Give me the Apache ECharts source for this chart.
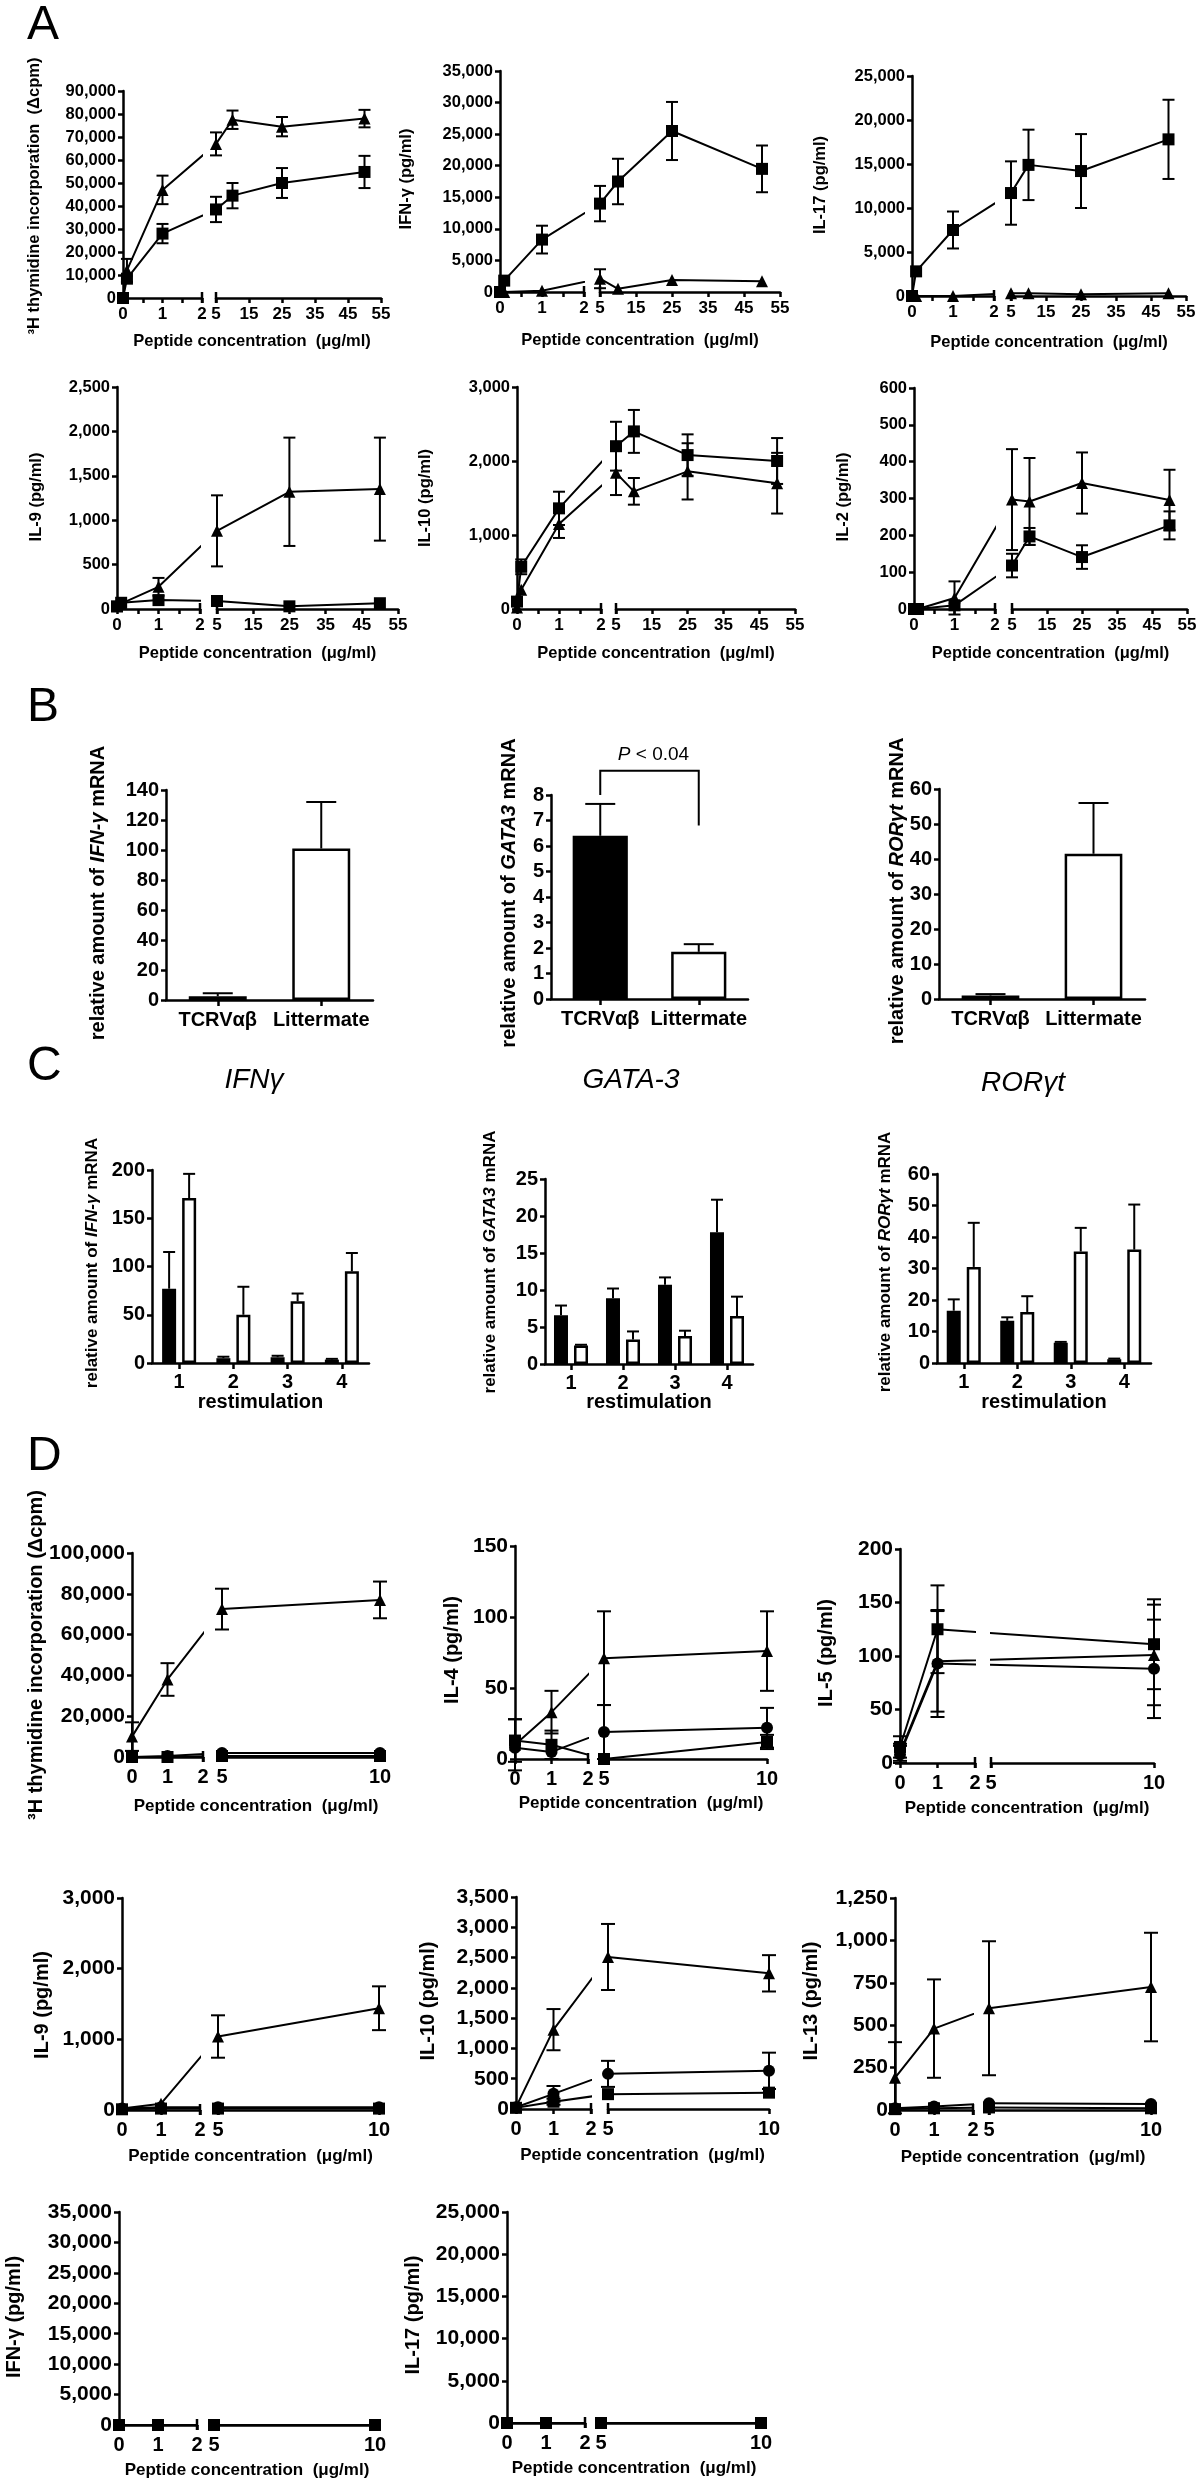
<!DOCTYPE html>
<html><head><meta charset="utf-8">
<script src="https://cdn.jsdelivr.net/npm/echarts@6/dist/echarts.min.js"></script>
<style>html,body{margin:0;padding:0;background:#fff}#c{width:1200px;height:2481px}</style>
</head><body><div id="c"></div>
<script>
// ================= DATA =================
// Panel A – peptide concentration (µg/ml)
const concA = [0, 0.1, 1, 5, 10, 25, 50];
const concA9 = [0, 0.1, 1, 5, 25, 50];
const xLeftA = [0, 2, 0.5];
const xRightA = [5, 55, 10];
// A1 3H thymidine
const yThyA = [0, 90000, 10000];
const aThySq = [0, 8400, 28000, 38500, 44500, 50000, 54800];
const aThySqErr = [0, 0, 4200, 5500, 5500, 6500, 7000];
const aThyTri = [0, 12000, 47000, 67000, 77500, 74500, 78000];
const aThyTriErr = [0, 5000, 6200, 5000, 4000, 4200, 3800];
// A2 IFN-γ
const yIfnA = [0, 35000, 5000];
const aIfnSq = [0, 1800, 8300, 14000, 17500, 25500, 19500];
const aIfnSqErr = [0, 0, 2200, 2800, 3600, 4600, 3700];
const aIfnTri = [0, 0, 200, 2100, 500, 1900, 1700];
const aIfnTriErr = [0, 0, 0, 1500, 0, 0, 0];
// A3 IL-17
const yIl17A = [0, 25000, 5000];
const aIl17Sq = [0, 2800, 7500, 11700, 14900, 14200, 17800];
const aIl17SqErr = [0, 0, 2100, 3600, 4000, 4200, 4500];
const aIl17Tri = [0, 0, 0, 300, 300, 200, 300];
const aIl17TriErr = [0, 0, 0, 0, 0, 0, 0];
// A4 IL-9
const yIl9A = [0, 2500, 500];
const aIl9Tri = [30, 60, 250, 880, 1320, 1350];
const aIl9TriErr = [0, 0, 100, 400, 610, 580];
const aIl9Sq = [30, 70, 100, 90, 30, 65];
const aIl9SqErr = [0, 0, 0, 0, 0, 0];
// A5 IL-10
const yIl10A = [0, 3000, 1000];
const aIl10Sq = [100, 570, 1360, 2200, 2400, 2080, 2000];
const aIl10SqErr = [0, 100, 225, 330, 290, 280, 310];
const aIl10Tri = [20, 260, 1150, 1840, 1590, 1860, 1700];
const aIl10TriErr = [0, 0, 190, 300, 180, 380, 410];
// A6 IL-2
const yIl2A = [0, 600, 100];
const aIl2Tri = [0, 0, 30, 297, 292, 342, 296];
const aIl2TriErr = [0, 0, 45, 137, 118, 83, 82];
const aIl2Sq = [0, 0, 10, 118, 197, 141, 227];
const aIl2SqErr = [0, 0, 0, 32, 23, 32, 38];

// Panel B
const bCats = ['TCRVαβ', 'Littermate'];
const yIfnB = [0, 140, 20];
const bIfn = [2.5, 101];
const bIfnErr = [2, 31];
const yGataB = [0, 8, 1];
const bGata = [6.4, 1.85];
const bGataErr = [1.25, 0.3];
const yRorB = [0, 60, 10];
const bRor = [1.0, 41.5];
const bRorErr = [0.4, 14.5];
const bBracket = {top: 8.95, leftEnd: 8.0, rightEnd: 6.8, label: 'P < 0.04'};

// Panel C
const cCats = ['1', '2', '3', '4'];
const yIfnC = [0, 200, 50];
const cIfnTcr = [77, 5, 6, 3.5];
const cIfnTcrErr = [38, 1.5, 1.5, 0.8];
const cIfnLit = [171, 50, 64, 95];
const cIfnLitErr = [25, 29, 8, 19];
const yGataC = [0, 25, 5];
const cGataTcr = [6.6, 8.9, 10.7, 17.8];
const cGataTcrErr = [1.3, 1.3, 1.0, 4.4];
const cGataLit = [2.5, 3.3, 3.8, 6.5];
const cGataLitErr = [0.1, 1.1, 0.7, 2.6];
const yRorC = [0, 60, 10];
const cRorTcr = [16.6, 13.4, 6.4, 1.2];
const cRorTcrErr = [3.6, 1.1, 0.3, 0.2];
const cRorLit = [30.5, 16.2, 35.4, 36];
const cRorLitErr = [14, 5, 7.5, 14.3];

// Panel D
const concD = [0, 1, 5, 10];
const concD5 = [0, 1, 10];
const xLeftD = [0, 2, 1];
const xRightD = [5, 10, 5];
const yThyD = [0, 100000, 20000];
const dThyTri = [10000, 38000, 72500, 77000];
const dThyTriErr = [7000, 8000, 10000, 9000];
const dThyCirc = [0, 500, 2000, 2000];
const dThySq = [0, 0, 500, 500];
const yIl4D = [0, 150, 50];
const dIl4Tri = [10, 33, 71, 76];
const dIl4TriErr = [18, 15, 33, 28];
const dIl4Circ = [8, 5, 19, 22];
const dIl4CircErr = [0, 0, 19, 14];
const dIl4Sq = [13, 10, 0, 12];
const dIl4SqErr = [15, 10, 0, 5];
const yIl5D = [0, 200, 50];
const dIl5Sq = [15, 125, 111];
const dIl5SqErr = [10, 41, 42];
const dIl5Tri = [10, 95, 101];
const dIl5TriErr = [8, 47, 47];
const dIl5Circ = [8, 93, 88];
const dIl5CircErr = [8, 50, 46];
const yIl9D = [0, 3000, 1000];
const dIl9Tri = [20, 90, 1040, 1440];
const dIl9TriErr = [0, 0, 300, 310];
const dIl9Circ = [20, 40, 40, 40];
const dIl9Sq = [10, 20, 20, 20];
const yIl10D = [0, 3500, 500];
const dIl10Tri = [30, 1310, 2510, 2240];
const dIl10TriErr = [0, 340, 545, 300];
const dIl10Circ = [30, 250, 580, 630];
const dIl10CircErr = [0, 130, 215, 300];
const dIl10Sq = [20, 120, 245, 270];
const dIl10SqErr = [0, 50, 0, 0];
const yIl13D = [0, 1250, 250];
const dIl13Tri = [190, 480, 600, 725];
const dIl13TriErr = [210, 290, 395, 320];
const dIl13Circ = [10, 20, 40, 35];
const dIl13Sq = [5, 10, 15, 10];
const yIfnD = [0, 35000, 5000];
const dIfnSq = [0, 0, 0, 0];
const dIfnTri = [0, 0, 0, 0];
const dIfnCirc = [0, 0, 0, 0];
const yIl17D = [0, 25000, 5000];
const dIl17Sq = [0, 0, 0, 0];
const dIl17Tri = [0, 0, 0, 0];
const dIl17Circ = [0, 0, 0, 0];
const zeros4 = [0, 0, 0, 0];

// ================= BUILD =================
const FF = "'Liberation Sans', Arial, Helvetica, sans-serif";
const option = {animation: false, backgroundColor: '#ffffff', grid: [], xAxis: [], yAxis: [], series: [], graphic: {elements: []}};
const GE = option.graphic.elements;
const fmt = v => Number(v).toLocaleString('en-US');
const AXL = {show: true, onZero: false, lineStyle: {color: '#000', width: 2.5}};
const tick = (len, extra) => Object.assign({show: true, inside: false, length: len, lineStyle: {color: '#000', width: 2.5}}, extra || {});

function addGrid(l, t, w, h) {
  option.grid.push({left: l, top: t, width: w, height: h, containLabel: false, outerBoundsMode: 'none'});
  return option.grid.length - 1;
}
function text(str, x, y, o) {
  o = o || {};
  const el = {type: 'text', x: x, y: y, silent: true, z: 10,
    style: {text: str, fill: '#000', fontFamily: FF, fontSize: o.size || 16, fontWeight: o.weight || 'bold',
      fontStyle: o.style || 'normal', align: o.align || 'center', verticalAlign: 'middle'}};
  if (o.rot) el.rotation = Math.PI / 2;
  if (o.rich) el.style.rich = o.rich;
  GE.push(el);
}
function errSeries(xi, yi, rows, cw, dx, upOnly) {
  return {type: 'custom', xAxisIndex: xi, yAxisIndex: yi, data: rows, silent: true, z: 4,
    renderItem: function (params, api) {
      const x = api.value(0), lo = api.value(1), hi = api.value(2);
      const a = api.coord([x, hi]), b = api.coord([x, lo]);
      const X = a[0] + (dx || 0);
      const st = {stroke: '#000', lineWidth: 2};
      const ch = [
        {type: 'line', shape: {x1: X, y1: a[1], x2: X, y2: b[1]}, style: st},
        {type: 'line', shape: {x1: X - cw, y1: a[1], x2: X + cw, y2: a[1]}, style: st}];
      if (!upOnly) ch.push({type: 'line', shape: {x1: X - cw, y1: b[1], x2: X + cw, y2: b[1]}, style: st});
      return {type: 'group', children: ch};
    }};
}
function breakMark(xi, yi, xv, yv) {
  return {type: 'custom', xAxisIndex: xi, yAxisIndex: yi, data: [[xv, yv]], silent: true, z: 5,
    renderItem: function (params, api) {
      const p = api.coord([api.value(0), api.value(1)]);
      return {type: 'line', shape: {x1: p[0], y1: p[1] - 6, x2: p[0], y2: p[1] + 5}, style: {stroke: '#000', lineWidth: 2.5}};
    }};
}

function brokenPlot(p) {
  const L = p.lay, f = p.f;
  const top = L.y[0], h = L.y[1] - L.y[0];
  const gL = addGrid(L.xL[0], top, L.xL[1] - L.xL[0], h);
  const gR = addGrid(L.xR[0], top, L.xR[1] - L.xR[0], h);
  const [lMin, lMax, lInt] = p.xl, [rMin, rMax, rInt] = p.xr;
  const xlab = {color: '#000', fontSize: f.xTick, fontWeight: 'bold', fontFamily: FF, margin: f.xMargin,
    formatter: v => (Math.abs(v - Math.round(v)) < 1e-9 ? String(Math.round(v)) : '')};
  const ixL = option.xAxis.length;
  option.xAxis.push({gridIndex: gL, type: 'value', min: lMin, max: lMax, interval: lInt, position: 'bottom',
    axisLine: AXL, axisTick: tick(5), splitLine: {show: false}, axisLabel: xlab});
  const ixR = option.xAxis.length;
  option.xAxis.push({gridIndex: gR, type: 'value', min: rMin, max: rMax, interval: rInt, position: 'bottom',
    axisLine: AXL, axisTick: tick(5), splitLine: {show: false}, axisLabel: xlab});
  const iyL = option.yAxis.length;
  option.yAxis.push({gridIndex: gL, type: 'value', min: p.yr[0], max: p.yr[1], interval: p.yr[2], position: 'left',
    axisLine: AXL, axisTick: tick(5), splitLine: {show: false},
    axisLabel: {color: '#000', fontSize: f.tick, fontWeight: 'bold', fontFamily: FF, margin: 7, formatter: fmt}});
  const iyR = option.yAxis.length;
  option.yAxis.push({gridIndex: gR, type: 'value', min: p.yr[0], max: p.yr[1], show: false});

  const pxL = (L.xL[1] - L.xL[0]) / (lMax - lMin);
  const pxR = (L.xR[1] - L.xR[0]) / (rMax - rMin);
  const gap = L.xR[0] - L.xL[1];
  const xs = p.conc;
  p.groups.forEach(g => {
    const [sym, ys, es] = g;
    const left = [], right = [], eL = [], eR = [];
    let iLast = -1;
    xs.forEach((x, i) => { if (x <= lMax) { left.push([x, ys[i]]); iLast = i; if (es[i] > 0) eL.push([x, ys[i] - es[i], ys[i] + es[i]]); } });
    const iFirst = xs.findIndex(x => x >= rMin);
    if (iFirst >= 0 && iLast >= 0) {
      left.push({value: [lMax + (gap + (xs[iFirst] - rMin) * pxR) / pxL, ys[iFirst]], symbol: 'none'});
      right.push({value: [rMin - (gap + (lMax - xs[iLast]) * pxL) / pxR, ys[iLast]], symbol: 'none'});
    }
    xs.forEach((x, i) => { if (x >= rMin) { right.push([x, ys[i]]); if (es[i] > 0) eR.push([x, ys[i] - es[i], ys[i] + es[i]]); } });
    const base = {type: 'line', symbol: sym, symbolSize: f.sym, itemStyle: {color: '#000'},
      lineStyle: {color: '#000', width: 2}, clip: true, silent: true, z: 3, emphasis: {disabled: true}};
    option.series.push(Object.assign({}, base, {xAxisIndex: ixL, yAxisIndex: iyL, data: left}));
    option.series.push(Object.assign({}, base, {xAxisIndex: ixR, yAxisIndex: iyR, data: right}));
    if (eL.length) option.series.push(errSeries(ixL, iyL, eL, f.cap));
    if (eR.length) option.series.push(errSeries(ixR, iyR, eR, f.cap));
  });
  option.series.push(breakMark(ixL, iyL, lMax, p.yr[0]));
  option.series.push(breakMark(ixR, iyR, rMin, p.yr[0]));
  text(p.yTitle, L.yT[0], L.yT[1], {size: f.yTitle, rot: true});
  text('Peptide concentration  (μg/ml)', (L.xL[0] + L.xR[1]) / 2, L.xT, {size: f.xTitle});
}

function barPlot(p) {
  const L = p.lay, f = p.f;
  const g = addGrid(L.x[0], L.y[0], L.x[1] - L.x[0], L.y[1] - L.y[0]);
  const ix = option.xAxis.length;
  option.xAxis.push({gridIndex: g, type: 'category', data: p.cats, position: 'bottom',
    axisLine: AXL, axisTick: tick(6, {alignWithLabel: true, interval: 0}),
    axisLabel: {color: '#000', fontSize: f.xTick, fontWeight: 'bold', fontFamily: FF, margin: f.xMargin, interval: 0, hideOverlap: false}});
  const iy = option.yAxis.length;
  option.yAxis.push({gridIndex: g, type: 'value', min: p.yr[0], max: p.yr[1], interval: p.yr[2], position: 'left',
    axisLine: AXL, axisTick: tick(5), splitLine: {show: false},
    axisLabel: {color: '#000', fontSize: f.tick, fontWeight: 'bold', fontFamily: FF, margin: 7, formatter: fmt}});
  p.series.forEach(s => {
    option.series.push({type: 'bar', xAxisIndex: ix, yAxisIndex: iy, barWidth: p.barWidth, barGap: p.barGap,
      data: s.values.map((v, i) => ({value: v, itemStyle: {color: s.colors[i % s.colors.length]}})),
      itemStyle: {borderColor: '#000', borderWidth: 2.5}, silent: true, z: 2});
    const rows = s.values.map((v, i) => [i, v, v + s.errs[i]]);
    option.series.push(errSeries(ix, iy, rows, p.cap, s.dx, true));
  });
  if (p.bracket) {
    const br = p.bracket;
    option.series.push({type: 'custom', xAxisIndex: ix, yAxisIndex: iy, data: [[0, 1]], silent: true, z: 6,
      renderItem: function (params, api) {
        const a = api.coord([0, br.top]), b = api.coord([1, br.top]);
        const a2 = api.coord([0, br.leftEnd]), b2 = api.coord([1, br.rightEnd]);
        return {type: 'group', children: [
          {type: 'polyline', shape: {points: [[a2[0], a2[1]], [a[0], a[1]], [b[0], b[1]], [b2[0], b2[1]]]},
            style: {stroke: '#000', lineWidth: 2, fill: null}},
          {type: 'text', x: (a[0] + b[0]) / 2 + 4, y: a[1] - 16,
            style: {text: '{i|P} < 0.04', fill: '#000', fontFamily: FF, fontSize: 19, align: 'center', verticalAlign: 'middle',
              rich: {i: {fontStyle: 'italic', fontFamily: FF, fontSize: 19}}}}]};
      }});
  }
  if (p.yTitle) text(p.yTitle, p.yT[0], p.yT[1], {size: f.yTitle, rot: true, rich: {i: {fontStyle: 'italic', fontWeight: 'bold', fontSize: f.yTitle, fontFamily: FF}}});
  if (p.xTitle) text(p.xTitle, (L.x[0] + L.x[1]) / 2, p.xT, {size: f.xName});
}

const fA = {tick: 16.5, xTick: 17, yTitle: 16.5, xTitle: 16.5, xMargin: 8, cap: 6, sym: 12};
const fD = {tick: 21, xTick: 20, yTitle: 20, xTitle: 17, xMargin: 10, cap: 7, sym: 12};
const fB = {tick: 20, xTick: 20, yTitle: 20, xMargin: 10};
const fC = {tick: 20, xTick: 20, yTitle: 17, xMargin: 9, xName: 20};

// ----- Panel A -----
brokenPlot({lay: {xL: [123, 202], xR: [216, 381], y: [91, 298], yT: [34, 196], xT: 341}, xl: xLeftA, xr: xRightA, yr: yThyA, conc: concA, f: fA,
  yTitle: '³H thymidine incorporation  (Δcpm)', groups: [['rect', aThySq, aThySqErr], ['triangle', aThyTri, aThyTriErr]]});
brokenPlot({lay: {xL: [500, 584], xR: [600, 780], y: [71, 292], yT: [406, 179], xT: 340}, xl: xLeftA, xr: xRightA, yr: yIfnA, conc: concA, f: fA,
  yTitle: 'IFN-γ (pg/ml)', groups: [['triangle', aIfnTri, aIfnTriErr], ['rect', aIfnSq, aIfnSqErr]]});
brokenPlot({lay: {xL: [912, 994], xR: [1011, 1186], y: [76, 296], yT: [820, 185], xT: 342}, xl: xLeftA, xr: xRightA, yr: yIl17A, conc: concA, f: fA,
  yTitle: 'IL-17 (pg/ml)', groups: [['triangle', aIl17Tri, aIl17TriErr], ['rect', aIl17Sq, aIl17SqErr]]});
brokenPlot({lay: {xL: [117, 200], xR: [217, 398], y: [387, 609], yT: [36, 497], xT: 653}, xl: xLeftA, xr: xRightA, yr: yIl9A, conc: concA9, f: fA,
  yTitle: 'IL-9 (pg/ml)', groups: [['rect', aIl9Sq, aIl9SqErr], ['triangle', aIl9Tri, aIl9TriErr]]});
brokenPlot({lay: {xL: [517, 601], xR: [616, 795], y: [387, 609], yT: [425, 498], xT: 653}, xl: xLeftA, xr: xRightA, yr: yIl10A, conc: concA, f: fA,
  yTitle: 'IL-10 (pg/ml)', groups: [['triangle', aIl10Tri, aIl10TriErr], ['rect', aIl10Sq, aIl10SqErr]]});
brokenPlot({lay: {xL: [914, 995], xR: [1012, 1187], y: [388, 609], yT: [843, 497], xT: 653}, xl: xLeftA, xr: xRightA, yr: yIl2A, conc: concA, f: fA,
  yTitle: 'IL-2 (pg/ml)', groups: [['triangle', aIl2Tri, aIl2TriErr], ['rect', aIl2Sq, aIl2SqErr]]});

// ----- Panel B -----
const bw = ['#000', '#fff'];
barPlot({lay: {x: [166, 373], y: [790, 1000]}, yr: yIfnB, cats: bCats, f: fB, barWidth: '56%', cap: 15,
  series: [{values: bIfn, errs: bIfnErr, colors: bw}], yTitle: 'relative amount of {i|IFN-γ} mRNA', yT: [98, 893]});
barPlot({lay: {x: [551, 748], y: [795, 999]}, yr: yGataB, cats: bCats, f: fB, barWidth: '56%', cap: 15,
  series: [{values: bGata, errs: bGataErr, colors: bw}], yTitle: 'relative amount of {i|GATA3} mRNA', yT: [509, 893], bracket: bBracket});
barPlot({lay: {x: [939, 1145], y: [789, 999]}, yr: yRorB, cats: bCats, f: fB, barWidth: '56%', cap: 15,
  series: [{values: bRor, errs: bRorErr, colors: bw}], yTitle: 'relative amount of {i|RORγt} mRNA', yT: [897, 891]});

// ----- Panel C -----
const cBW = 14, cGap = '43%', cOff = 10;
barPlot({lay: {x: [152, 369], y: [1170, 1363]}, yr: yIfnC, cats: cCats, f: fC, barWidth: cBW, barGap: cGap, cap: 6,
  series: [{values: cIfnTcr, errs: cIfnTcrErr, colors: ['#000'], dx: -cOff}, {values: cIfnLit, errs: cIfnLitErr, colors: ['#fff'], dx: cOff}],
  yTitle: 'relative amount of {i|IFN-γ} mRNA', yT: [92, 1263], xTitle: 'restimulation', xT: 1402});
barPlot({lay: {x: [545, 753], y: [1179, 1364]}, yr: yGataC, cats: cCats, f: fC, barWidth: cBW, barGap: cGap, cap: 6,
  series: [{values: cGataTcr, errs: cGataTcrErr, colors: ['#000'], dx: -cOff}, {values: cGataLit, errs: cGataLitErr, colors: ['#fff'], dx: cOff}],
  yTitle: 'relative amount of {i|GATA3} mRNA', yT: [490, 1262], xTitle: 'restimulation', xT: 1402});
barPlot({lay: {x: [937, 1151], y: [1174, 1363]}, yr: yRorC, cats: cCats, f: fC, barWidth: cBW, barGap: cGap, cap: 6,
  series: [{values: cRorTcr, errs: cRorTcrErr, colors: ['#000'], dx: -cOff}, {values: cRorLit, errs: cRorLitErr, colors: ['#fff'], dx: cOff}],
  yTitle: 'relative amount of {i|RORγt} mRNA', yT: [885, 1262], xTitle: 'restimulation', xT: 1402});
text('IFNγ', 254, 1080, {size: 28, weight: 'normal', style: 'italic'});
text('GATA-3', 631, 1080, {size: 28, weight: 'normal', style: 'italic'});
text('RORγt', 1023, 1083, {size: 28, weight: 'normal', style: 'italic'});

// ----- Panel D -----
brokenPlot({lay: {xL: [132, 203], xR: [222, 380], y: [1553, 1757], yT: [36, 1655], xT: 1806}, xl: xLeftD, xr: xRightD, yr: yThyD, conc: concD, f: fD,
  yTitle: '³H thymidine incorporation (Δcpm)', groups: [['rect', dThySq, zeros4], ['circle', dThyCirc, zeros4], ['triangle', dThyTri, dThyTriErr]]});
brokenPlot({lay: {xL: [515, 588], xR: [604, 767], y: [1546, 1759], yT: [452, 1650], xT: 1803}, xl: xLeftD, xr: xRightD, yr: yIl4D, conc: concD, f: fD,
  yTitle: 'IL-4 (pg/ml)', groups: [['rect', dIl4Sq, dIl4SqErr], ['circle', dIl4Circ, dIl4CircErr], ['triangle', dIl4Tri, dIl4TriErr]]});
brokenPlot({lay: {xL: [900, 975], xR: [991, 1154], y: [1549, 1763], yT: [826, 1653], xT: 1808}, xl: xLeftD, xr: xRightD, yr: yIl5D, conc: concD5, f: fD,
  yTitle: 'IL-5 (pg/ml)', groups: [['circle', dIl5Circ, dIl5CircErr], ['triangle', dIl5Tri, dIl5TriErr], ['rect', dIl5Sq, dIl5SqErr]]});
brokenPlot({lay: {xL: [122, 200], xR: [218, 379], y: [1898, 2110], yT: [42, 2005], xT: 2156}, xl: xLeftD, xr: xRightD, yr: yIl9D, conc: concD, f: fD,
  yTitle: 'IL-9 (pg/ml)', groups: [['rect', dIl9Sq, zeros4], ['circle', dIl9Circ, zeros4], ['triangle', dIl9Tri, dIl9TriErr]]});
brokenPlot({lay: {xL: [516, 591], xR: [608, 769], y: [1897, 2109], yT: [428, 2001], xT: 2155}, xl: xLeftD, xr: xRightD, yr: yIl10D, conc: concD, f: fD,
  yTitle: 'IL-10 (pg/ml)', groups: [['rect', dIl10Sq, dIl10SqErr], ['circle', dIl10Circ, dIl10CircErr], ['triangle', dIl10Tri, dIl10TriErr]]});
brokenPlot({lay: {xL: [895, 973], xR: [989, 1151], y: [1898, 2110], yT: [811, 2001], xT: 2157}, xl: xLeftD, xr: xRightD, yr: yIl13D, conc: concD, f: fD,
  yTitle: 'IL-13 (pg/ml)', groups: [['rect', dIl13Sq, zeros4], ['circle', dIl13Circ, zeros4], ['triangle', dIl13Tri, dIl13TriErr]]});
brokenPlot({lay: {xL: [119, 197], xR: [214, 375], y: [2212, 2425], yT: [14, 2317], xT: 2470}, xl: xLeftD, xr: xRightD, yr: yIfnD, conc: concD, f: fD,
  yTitle: 'IFN-γ (pg/ml)', groups: [['circle', dIfnCirc, zeros4], ['triangle', dIfnTri, zeros4], ['rect', dIfnSq, zeros4]]});
brokenPlot({lay: {xL: [507, 585], xR: [601, 761], y: [2212, 2423], yT: [413, 2315], xT: 2468}, xl: xLeftD, xr: xRightD, yr: yIl17D, conc: concD, f: fD,
  yTitle: 'IL-17 (pg/ml)', groups: [['circle', dIl17Circ, zeros4], ['triangle', dIl17Tri, zeros4], ['rect', dIl17Sq, zeros4]]});

// ----- Panel letters -----
text('A', 27, 26, {size: 48, weight: 'normal', align: 'left'});
text('B', 27, 708, {size: 48, weight: 'normal', align: 'left'});
text('C', 27, 1067, {size: 48, weight: 'normal', align: 'left'});
text('D', 27, 1457, {size: 48, weight: 'normal', align: 'left'});

const chart = echarts.init(document.getElementById('c'), null, {renderer: 'canvas', width: 1200, height: 2481});
chart.setOption(option);
</script></body></html>
